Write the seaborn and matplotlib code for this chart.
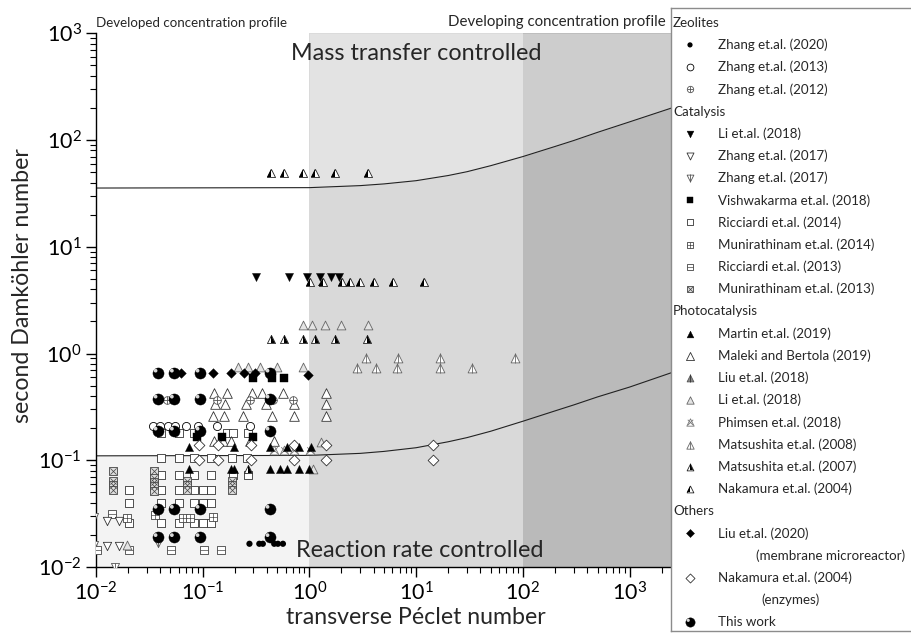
import matplotlib
matplotlib.use('Agg')
import matplotlib.pyplot as plt
import seaborn as sns
from matplotlib.markers import MarkerStyle
from matplotlib.path import Path
from matplotlib.ticker import FixedLocator, FixedFormatter, NullFormatter

sns.set_style('ticks')
plt.rcParams['font.family'] = ['Lato', 'DejaVu Sans']
plt.rcParams['mathtext.fontset'] = 'custom'
plt.rcParams['mathtext.rm'] = 'Lato'
plt.rcParams['mathtext.it'] = 'Lato:italic'
plt.rcParams['mathtext.bf'] = 'Lato:bold'

# ---------------- data (Pe_t, Da_II) ----------------
this_work_x = [0.038, 0.054, 0.094, 0.425, 0.038, 0.054, 0.094, 0.425, 0.038, 0.054, 0.094, 0.425,
               0.038, 0.054, 0.094, 0.425, 0.038, 0.054, 0.094, 0.425]
this_work_y = [0.66, 0.66, 0.66, 0.66, 0.377, 0.377, 0.377, 0.377, 0.189, 0.189, 0.189, 0.189,
               0.035, 0.035, 0.035, 0.035, 0.019, 0.019, 0.019, 0.019]

zhang2020_x = [0.275, 0.34, 0.367, 0.469, 0.508, 0.566]
zhang2020_y = [0.0165, 0.0165, 0.0165, 0.0165, 0.0165, 0.0165]

zhang2013_x = [0.0347, 0.040, 0.047, 0.0553, 0.0697, 0.0916, 0.138, 0.279]
zhang2013_y = [0.21, 0.21, 0.21, 0.21, 0.21, 0.21, 0.21, 0.21]

zhang2012_x = [0.046, 0.138, 0.279, 0.461, 0.70]
zhang2012_y = [0.366, 0.366, 0.366, 0.366, 0.366]

li2018cat_x = [0.316, 0.64, 0.95, 1.26, 1.6, 1.9]
li2018cat_y = [5.26, 5.26, 5.26, 5.26, 5.26, 5.26]

zhang2017a_x = [0.0127, 0.0166, 0.0127, 0.0166]
zhang2017a_y = [0.0272, 0.0272, 0.0157, 0.0157]

zhang2017b_x = [0.0097, 0.0097, 0.0152, 0.0386]
zhang2017b_y = [0.0292, 0.0161, 0.0100, 0.0167]

vishwakarma_x = [0.0885, 0.152, 0.294, 0.294, 0.446, 0.582]
vishwakarma_y = [0.166, 0.166, 0.166, 0.592, 0.592, 0.592]

ricciardi2014_x = [0.0406, 0.0608, 0.0834, 0.169, 0.192, 0.264,
                   0.0406, 0.0608, 0.0834, 0.1197, 0.1906, 0.2635,
                   0.0406, 0.0608, 0.0834, 0.1197, 0.191, 0.269,
                   0.0206, 0.0406, 0.0608, 0.0838, 0.100, 0.1197,
                   0.0206, 0.0406, 0.0608, 0.0838, 0.100, 0.1197,
                   0.0206, 0.0406, 0.0608, 0.0838, 0.100, 0.1197]
ricciardi2014_y = [0.179, 0.179, 0.179, 0.179, 0.179, 0.179,
                   0.104, 0.104, 0.104, 0.104, 0.104, 0.104,
                   0.0735, 0.0735, 0.0735, 0.0735, 0.0735, 0.0735,
                   0.0530, 0.0530, 0.0530, 0.0530, 0.0530, 0.0530,
                   0.0394, 0.0394, 0.0394, 0.0394, 0.0394, 0.0394,
                   0.0258, 0.0258, 0.0258, 0.0258, 0.0258, 0.0258]

munirathinam2014_x = [0.0195, 0.036, 0.066, 0.0766, 0.125]
munirathinam2014_y = [0.029, 0.0307, 0.029, 0.029, 0.0296]

ricciardi2013_x = [0.0102, 0.0205, 0.0508, 0.1037, 0.1486, 0.0143]
ricciardi2013_y = [0.0144, 0.0144, 0.0144, 0.0144, 0.0144, 0.0311]

munirathinam2013_x = [0.0144, 0.0144, 0.0144, 0.0144,
                      0.0352, 0.0352, 0.0352, 0.0352, 0.0352,
                      0.0723, 0.0723, 0.0723,
                      0.188, 0.188, 0.188]
munirathinam2013_y = [0.080, 0.064, 0.058, 0.053,
                      0.080, 0.068, 0.062, 0.057, 0.052,
                      0.064, 0.058, 0.053,
                      0.064, 0.058, 0.053]

martin2019_x = [0.0748, 0.198, 0.424, 0.616, 0.804, 1.04,
                0.075, 0.184, 0.198, 0.424, 0.533, 0.616, 0.792, 1.0]
martin2019_y = [0.134, 0.134, 0.134, 0.134, 0.134, 0.134,
                0.083, 0.083, 0.083, 0.083, 0.083, 0.083, 0.083, 0.083]

maleki2019_x = [0.127, 0.168, 0.289, 0.357, 0.573, 1.42,
                0.131, 0.162, 0.258, 0.39, 0.713, 1.44,
                0.124, 0.158, 0.238, 0.447, 0.713, 1.44,
                0.129, 0.157, 0.185, 0.279, 0.47]
maleki2019_y = [0.423, 0.423, 0.423, 0.423, 0.423, 0.423,
                0.336, 0.336, 0.336, 0.336, 0.336, 0.336,
                0.262, 0.262, 0.262, 0.262, 0.262, 0.262,
                0.150, 0.150, 0.150, 0.150, 0.150]

li2018photo_x = [0.217, 0.269, 0.347, 0.497, 0.871,
                 0.873, 1.07, 1.39, 2.0, 3.52,
                 1.28, 1.09, 0.0195]
li2018photo_y = [0.741, 0.741, 0.741, 0.741, 0.741,
                 1.85, 1.85, 1.85, 1.85, 1.85,
                 0.149, 0.083, 0.0161]

phimsen2018_x = [0.463, 0.574, 0.713, 1.02]
phimsen2018_y = [0.126, 0.126, 0.126, 0.126]

matsushita2008_x = [3.41, 6.71, 16.9, 85.0, 2.79, 4.21, 6.62, 16.9, 33.4]
matsushita2008_y = [0.90, 0.90, 0.90, 0.90, 0.725, 0.725, 0.725, 0.725, 0.725]

matsushita2007_x = [0.436, 0.58, 0.87, 1.14, 1.75, 3.5, 0.269]
matsushita2007_y = [1.38, 1.38, 1.38, 1.38, 1.38, 1.38, 0.083]

nakamura2004p_x = [0.436, 0.58, 0.87, 1.14, 1.75, 3.54,
                   1.02, 1.33, 2.02, 2.42, 3.0, 4.06, 6.07, 11.9]
nakamura2004p_y = [48.9, 48.9, 48.9, 48.9, 48.9, 48.9,
                   4.72, 4.72, 4.72, 4.72, 4.72, 4.72, 4.72, 4.72]

liu2020_x = [0.0627, 0.125, 0.184, 0.245, 0.311, 0.962]
liu2020_y = [0.652, 0.652, 0.652, 0.652, 0.652, 0.63]

nakamura2004e_x = [0.0935, 0.141, 0.284, 0.713, 1.44, 14.3,
                   0.0935, 0.141, 0.284, 0.713, 1.44, 14.3]
nakamura2004e_y = [0.139, 0.139, 0.139, 0.139, 0.139, 0.139,
                   0.100, 0.100, 0.100, 0.100, 0.100, 0.100]

# regime boundary curves
curve_pe = [0.01, 1, 3, 5, 10, 20, 30, 50, 100, 200, 300, 500, 1000, 2450, 10000]
upper_da = [35.5, 35.8, 37.4, 38.8, 41.6, 46.5, 50.5, 57.5, 70.0, 87.0, 99.0, 118.0, 148.0, 199.0, 320.0]
lower_da = [0.110, 0.111, 0.116, 0.121, 0.131, 0.149, 0.163, 0.187, 0.232, 0.290, 0.330, 0.392, 0.485, 0.660, 1.06]

# region limits
pe_developed_end = 1.0
pe_developing_start = 100.0
da_reaction_top = 0.11

x_tick_vals = [1e-2, 1e-1, 1e0, 1e1, 1e2, 1e3, 1e4]
x_tick_labels = [r'$10^{-2}$', r'$10^{-1}$', r'$10^{0}$', r'$10^{1}$', r'$10^{2}$', r'$10^{3}$', '']
y_tick_vals = [1e-2, 1e-1, 1e0, 1e1, 1e2, 1e3]
y_tick_labels = [r'$10^{-2}$', r'$10^{-1}$', r'$10^{0}$', r'$10^{1}$', r'$10^{2}$', r'$10^{3}$']

LEGEND = [
    ('head', 'Zeolites', None),
    ('item', 'Zhang et.al. (2020)', 'dot'),
    ('item', 'Zhang et.al. (2013)', 'ocirc'),
    ('item', 'Zhang et.al. (2012)', 'ocplus'),
    ('head', 'Catalysis', None),
    ('item', 'Li et.al. (2018)', 'vfill'),
    ('item', 'Zhang et.al. (2017)', 'vopen'),
    ('item', 'Zhang et.al. (2017)', 'vline'),
    ('item', 'Vishwakarma et.al. (2018)', 'sqfill'),
    ('item', 'Ricciardi et.al. (2014)', 'sqopen'),
    ('item', 'Munirathinam et.al. (2014)', 'sqplus'),
    ('item', 'Ricciardi et.al. (2013)', 'sqminus'),
    ('item', 'Munirathinam et.al. (2013)', 'sqx'),
    ('head', 'Photocatalysis', None),
    ('item', 'Martin et.al. (2019)', 'tfill'),
    ('item', 'Maleki and Bertola (2019)', 'topen'),
    ('item', 'Liu et.al. (2018)', 'tdark'),
    ('item', 'Li et.al. (2018)', 'tgray'),
    ('item', 'Phimsen et.al. (2018)', 'tx'),
    ('item', 'Matsushita et.al. (2008)', 'tline'),
    ('item', 'Matsushita et.al. (2007)', 'thalfR'),
    ('item', 'Nakamura et.al. (2004)', 'thalfL'),
    ('head', 'Others', None),
    ('item', 'Liu et.al. (2020)', 'dfill'),
    ('sub', '(membrane microreactor)', None),
    ('item', 'Nakamura et.al. (2004)', 'dopen'),
    ('sub', '(enzymes)', None),
    ('item', 'This work', 'sphere'),
]

# highlight marker for the shaded spheres (unit = sphere radius)
_c = Path.circle(center=(-0.38, 0.38), radius=0.34)
HIGHLIGHT = Path([(1.0, 1.0)] + list(_c.vertices), [Path.MOVETO] + list(_c.codes))

# ---------------- figure ----------------
fig = plt.figure(figsize=(9.12, 6.34), dpi=100)
ax = fig.add_axes([0.105, 0.1057, 0.7025, 0.8418])
ax.set_xscale('log')
ax.set_yscale('log')


def sc(a, xs, ys, marker, s, fc, ec, lw, z, **kw):
    sns.scatterplot(x=xs, y=ys, ax=a, marker=marker, s=s, color=fc,
                    edgecolor=ec, linewidth=lw, zorder=z, legend=False, **kw)


def draw(a, xs, ys, key, k=1.0):
    if key == 'sphere':
        sc(a, xs, ys, 'o', 64 * k, 'black', 'black', 0.3, 6)
        sc(a, xs, ys, HIGHLIGHT, 64 * k, '#d8d8d8', 'none', 0, 6.1)
    elif key == 'dot':
        sc(a, xs, ys, 'o', 20 * k, 'black', 'none', 0, 5)
    elif key == 'ocirc':
        sc(a, xs, ys, 'o', 34 * k, 'white', 'black', 0.6, 4)
    elif key == 'ocplus':
        sc(a, xs, ys, 'o', 30 * k, 'white', '#555555', 0.6, 4)
        sc(a, xs, ys, '+', 30 * k, '#555555', None, 0.6, 4.1)
    elif key == 'vfill':
        sc(a, xs, ys, 'v', 34 * k, 'black', 'black', 0.3, 4)
    elif key == 'vopen':
        sc(a, xs, ys, 'v', 36 * k, 'white', '#333333', 0.6, 4)
    elif key == 'vline':
        sc(a, xs, ys, 'v', 34 * k, 'white', '#555555', 0.6, 4)
        sc(a, xs, ys, '|', 40 * k, '#555555', None, 0.6, 4.1)
    elif key == 'sqfill':
        sc(a, xs, ys, 's', 26 * k, 'black', 'black', 0.3, 4)
    elif key == 'sqopen':
        sc(a, xs, ys, 's', 26 * k, 'white', '#333333', 0.6, 3)
    elif key == 'sqplus':
        sc(a, xs, ys, 's', 26 * k, 'white', '#444444', 0.6, 3.5)
        sc(a, xs, ys, '+', 26 * k, '#444444', None, 0.5, 3.6)
    elif key == 'sqminus':
        sc(a, xs, ys, 's', 26 * k, 'white', '#444444', 0.6, 3.5)
        sc(a, xs, ys, '_', 26 * k, '#444444', None, 0.5, 3.6)
    elif key == 'sqx':
        sc(a, xs, ys, 's', 26 * k, '#dddddd', '#444444', 0.6, 3.5)
        sc(a, xs, ys, 'x', 20 * k, '#444444', None, 0.5, 3.6)
    elif key == 'tfill':
        sc(a, xs, ys, '^', 34 * k, 'black', 'black', 0.3, 4.5)
    elif key == 'topen':
        sc(a, xs, ys, '^', 48 * k, 'white', '#333333', 0.6, 3.8)
    elif key == 'tdark':
        sc(a, xs, ys, '^', 34 * k, '#888888', '#555555', 0.6, 4)
        sc(a, xs, ys, '|', 40 * k, '#333333', None, 0.6, 4.1)
    elif key == 'tgray':
        sc(a, xs, ys, '^', 40 * k, '#e4e4e4', '#666666', 0.6, 3.9)
    elif key == 'tx':
        sc(a, xs, ys, '^', 40 * k, 'white', '#777777', 0.6, 4)
        sc(a, xs, ys, 'x', 22 * k, '#777777', None, 0.6, 4.1)
    elif key == 'tline':
        sc(a, xs, ys, '^', 40 * k, 'white', '#666666', 0.6, 4)
        sc(a, xs, ys, '|', 46 * k, '#666666', None, 0.6, 4.1)
    elif key in ('thalfR', 'thalfL'):
        side = 'right' if key == 'thalfR' else 'left'
        sc(a, xs, ys, '^', 34 * k, 'white', '#222222', 0.6, 4)
        sc(a, xs, ys, MarkerStyle('^', fillstyle=side), 34 * k, 'black', 'none', 0, 4.1)
    elif key == 'dfill':
        sc(a, xs, ys, 'D', 24 * k, 'black', 'black', 0.3, 4.6)
    elif key == 'dopen':
        sc(a, xs, ys, 'D', 30 * k, 'white', '#333333', 0.6, 4.2)


# background regimes
ax.fill_between([0.01, pe_developed_end], [0.01, 0.01], [da_reaction_top, da_reaction_top],
                color='#f3f3f3', lw=0, zorder=0)
ax.axvspan(pe_developed_end, pe_developing_start, color='#d9d9d9', lw=0, zorder=0)
ax.axvspan(pe_developing_start, 1e4, color='#bababa', lw=0, zorder=0)
ax.fill_between(curve_pe[1:], upper_da[1:], [1e3] * (len(curve_pe) - 1),
                color='white', alpha=0.28, lw=0, zorder=0.5)

ax.plot(curve_pe, upper_da, color='#222222', lw=0.8, zorder=2)
ax.plot(curve_pe, lower_da, color='#222222', lw=0.8, zorder=2)

series = [
    (this_work_x, this_work_y, 'sphere'),
    (zhang2020_x, zhang2020_y, 'dot'),
    (zhang2013_x, zhang2013_y, 'ocirc'),
    (zhang2012_x, zhang2012_y, 'ocplus'),
    (li2018cat_x, li2018cat_y, 'vfill'),
    (zhang2017a_x, zhang2017a_y, 'vopen'),
    (zhang2017b_x, zhang2017b_y, 'vline'),
    (vishwakarma_x, vishwakarma_y, 'sqfill'),
    (ricciardi2014_x, ricciardi2014_y, 'sqopen'),
    (munirathinam2014_x, munirathinam2014_y, 'sqplus'),
    (ricciardi2013_x, ricciardi2013_y, 'sqminus'),
    (munirathinam2013_x, munirathinam2013_y, 'sqx'),
    (martin2019_x, martin2019_y, 'tfill'),
    (maleki2019_x, maleki2019_y, 'topen'),
    (li2018photo_x, li2018photo_y, 'tgray'),
    (phimsen2018_x, phimsen2018_y, 'tx'),
    (matsushita2008_x, matsushita2008_y, 'tline'),
    (matsushita2007_x, matsushita2007_y, 'thalfR'),
    (nakamura2004p_x, nakamura2004p_y, 'thalfL'),
    (liu2020_x, liu2020_y, 'dfill'),
    (nakamura2004e_x, nakamura2004e_y, 'dopen'),
]
for xs, ys, key in series:
    draw(ax, xs, ys, key)

ax.set_xlim(1e-2, 1e4)
ax.set_ylim(1e-2, 1e3)
for side in ('top', 'right'):
    ax.spines[side].set_visible(False)
for side in ('left', 'bottom'):
    ax.spines[side].set_color('black')
    ax.spines[side].set_linewidth(1.0)

x_minor = [m * v for v in x_tick_vals[:-1] for m in (2, 3, 4, 5, 6, 7, 8, 9)]
y_minor = [m * v for v in y_tick_vals[:-1] for m in (2, 3, 4, 5, 6, 7, 8, 9)]
ax.xaxis.set_major_locator(FixedLocator(x_tick_vals))
ax.xaxis.set_major_formatter(FixedFormatter(x_tick_labels))
ax.yaxis.set_major_locator(FixedLocator(y_tick_vals))
ax.yaxis.set_major_formatter(FixedFormatter(y_tick_labels))
ax.xaxis.set_minor_locator(FixedLocator(x_minor))
ax.yaxis.set_minor_locator(FixedLocator(y_minor))
ax.xaxis.set_minor_formatter(NullFormatter())
ax.yaxis.set_minor_formatter(NullFormatter())
ax.tick_params(which='major', direction='out', length=7, width=1, labelsize=15.5,
               colors='black', pad=3)
ax.tick_params(which='minor', direction='out', length=4, width=0.8, colors='black')

ax.set_xlabel('transverse Péclet number', fontsize=16.7, labelpad=2)
ax.set_ylabel('second Damköhler number', fontsize=16.7)
ax.yaxis.set_label_coords(-0.098, 0.528)

ax.text(0.5, 0.963, 'Mass transfer controlled', transform=ax.transAxes,
        ha='center', va='center', fontsize=16.8, zorder=7)
ax.text(0.505, 0.03, 'Reaction rate controlled', transform=ax.transAxes,
        ha='center', va='center', fontsize=16.8, zorder=7)
ax.text(0.0, 1.008, 'Developed concentration profile', transform=ax.transAxes,
        ha='left', va='bottom', fontsize=9.6)
ax.text(0.889, 1.008, 'Developing concentration profile', transform=ax.transAxes,
        ha='right', va='bottom', fontsize=10.8)

# ---------------- legend panel ----------------
lw_px = 246.2
lax = fig.add_axes([671 / 912, 1 - 631 / 634, lw_px / 912, 623 / 634])
lax.set_facecolor('white')
lax.set_xticks([])
lax.set_yticks([])
for sp in lax.spines.values():
    sp.set_color('#8c8c8c')
    sp.set_linewidth(1.0)

for i, (kind, label, key) in enumerate(LEGEND):
    yy = 14.7 + 22.2 * i
    if kind == 'head':
        lax.text(2, yy, label, ha='left', va='center', fontsize=9.6)
    elif kind == 'sub':
        indent = 85 if 'membrane' in label else 90
        lax.text(indent, yy, label, ha='left', va='center', fontsize=9.6)
    else:
        draw(lax, [19], [yy], key, k=0.7)
        lax.text(47, yy, label, ha='left', va='center', fontsize=9.6)
lax.set_xlim(0, lw_px)
lax.set_ylim(623, 0)

fig.savefig('out.png', dpi=100)
